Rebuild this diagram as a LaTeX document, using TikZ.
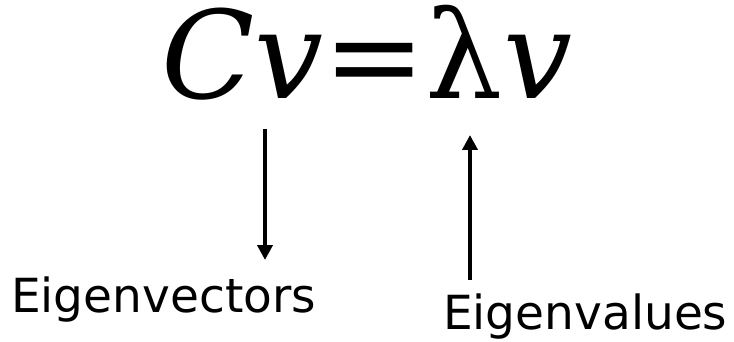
\documentclass[tikz,border=0pt]{standalone}
\usepackage{fontspec}
\setmainfont{DejaVu Sans}
\newfontfamily\eqfont{DejaVu Serif}
\usetikzlibrary{arrows.meta}
\begin{document}
\begin{tikzpicture}[x=1pt,y=-1pt,
  lbl/.style={inner sep=0pt,anchor=base west,font=\fontsize{47}{55}\selectfont},
  arr/.style={line width=4pt,-{Triangle[length=15pt,width=15pt]}}]
\useasboundingbox (0,0) rectangle (734,342);
\node[inner sep=0pt,anchor=base west,font=\eqfont\fontsize{122}{140}\selectfont] (eq) at (161,99) {\itshape Cv\upshape=λ\itshape v};
\node[lbl] (vec) at (11,312) {Eigenvectors};
\node[lbl] (val) at (443,329) {Eigenvalues};
\coordinate (a1) at (265,129);
\coordinate (a2) at (265,260);
\coordinate (b1) at (470,280);
\coordinate (b2) at (470,135);
\draw[arr] (a1) -- (a2);
\draw[arr] (b1) -- (b2);
\end{tikzpicture}
\end{document}
